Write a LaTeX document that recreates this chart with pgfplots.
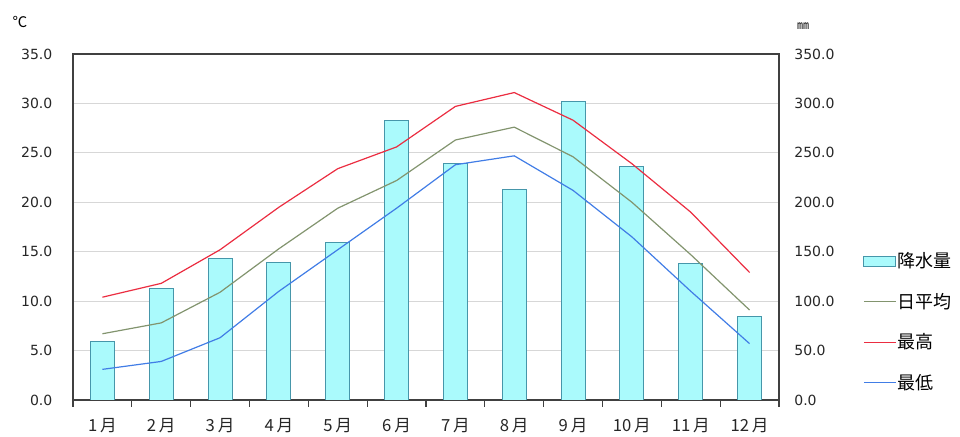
\documentclass[border=0pt]{standalone}
\usepackage{fontspec}
\setmainfont{Noto Sans CJK JP}
\newfontfamily\numfont{DejaVu Sans}
\usepackage{pgfplots}
\pgfplotsset{compat=1.18}
\definecolor{barfill}{RGB}{170,250,252}
\definecolor{baredge}{RGB}{70,150,170}
\definecolor{avgc}{RGB}{130,148,110}
\definecolor{maxc}{RGB}{235,45,65}
\definecolor{minc}{RGB}{65,125,230}
\definecolor{gridc}{RGB}{215,215,215}
\begin{document}
\begin{tikzpicture}[x=1pt,y=1pt]
\pgfplotsset{every axis/.append style={
  scale only axis, width=529.5pt, height=259.5pt,
  xmin=0.5, xmax=12.5,
  /pgf/number format/assume math mode=true,
  /pgf/number format/.cd, fixed, fixed zerofill, precision=1,
}}
% precipitation axis (right) with bars
\begin{axis}[
  ymin=0, ymax=350, ytick={0,50,...,350},
  yticklabel pos=right,
  ymajorgrids, grid style={gridc, line width=0.8pt},
  major tick length=0pt,
  xtick={1,...,12},
  xticklabels={1\,月,2\,月,3\,月,4\,月,5\,月,6\,月,7\,月,8\,月,9\,月,10\,月,11\,月,12\,月},
  minor xtick={0.5,1.5,...,12.5},
  minor tick length=5pt, tick align=outside,
  xtick pos=bottom, ytick pos=right,
  axis line style={black!75, line width=0.8pt},
  minor tick style={black!75, line width=0.8pt},
  tick label style={font=\numfont\fontsize{10.5pt}{12pt}\selectfont, text=black!85},
  xticklabel style={yshift=-10pt, font=\fontsize{12.5pt}{14pt}\selectfont},
  yticklabel style={xshift=8pt},
]
\addplot[ybar, bar width=18pt, fill=barfill, draw=baredge, line width=0.7pt]
  coordinates {(1,59) (2,113) (3,143) (4,139) (5,159) (6,283)
               (7,239) (8,213) (9,302) (10,236) (11,138) (12,84)};
\end{axis}
% temperature axis (left) with lines
\begin{axis}[
  ymin=0, ymax=35, ytick={0,5,...,35},
  yticklabel pos=left,
  axis line style={draw=none},
  xtick=\empty, major tick length=0pt,
  tick label style={font=\numfont\fontsize{10.5pt}{12pt}\selectfont, text=black!85},
  yticklabel style={xshift=-12pt},
  legend style={at={(1.119,0.43)}, anchor=north west, draw=none, fill=none,
    font=\fontsize{13.5pt}{15pt}\selectfont, row sep=15.5pt, inner sep=0pt,
    nodes={inner sep=1pt}},
  legend cell align=left,
]
\addlegendimage{legend image code/.code={\draw[fill=barfill, draw=baredge, line width=0.7pt] (0pt,-4pt) rectangle (24pt,4pt);}}
\addlegendentry{降水量}
\addlegendimage{legend image code/.code={\draw[avgc, line width=0.9pt] (0pt,0pt) -- (24pt,0pt);}}
\addlegendentry{日平均}
\addlegendimage{legend image code/.code={\draw[maxc, line width=0.9pt] (0pt,0pt) -- (24pt,0pt);}}
\addlegendentry{最高}
\addlegendimage{legend image code/.code={\draw[minc, line width=0.9pt] (0pt,0pt) -- (24pt,0pt);}}
\addlegendentry{最低}
\addplot[avgc, line width=0.9pt, forget plot] coordinates {(1,6.7) (2,7.8) (3,10.9) (4,15.3) (5,19.4) (6,22.2)
  (7,26.3) (8,27.6) (9,24.6) (10,20.0) (11,14.7) (12,9.1)};
\addplot[maxc, line width=0.9pt, forget plot] coordinates {(1,10.4) (2,11.8) (3,15.2) (4,19.5) (5,23.4) (6,25.6)
  (7,29.7) (8,31.1) (9,28.3) (10,23.9) (11,19.0) (12,12.9)};
\addplot[minc, line width=0.9pt, forget plot] coordinates {(1,3.1) (2,3.9) (3,6.3) (4,11.0) (5,15.2) (6,19.4)
  (7,23.8) (8,24.7) (9,21.2) (10,16.5) (11,11.0) (12,5.7)};
\end{axis}
\node[font=\fontsize{11pt}{12pt}\selectfont, anchor=center] at ([shift={(-39.75pt,24pt)}]current axis.north west) {℃};
\node[font=\fontsize{9pt}{10pt}\selectfont, anchor=center] at ([shift={(18pt,21pt)}]current axis.north east) {㎜};
\path ([shift={(-54.75pt,-25.5pt)}]current axis.south west) rectangle ++(720pt,325.5pt);
\end{tikzpicture}
\end{document}
